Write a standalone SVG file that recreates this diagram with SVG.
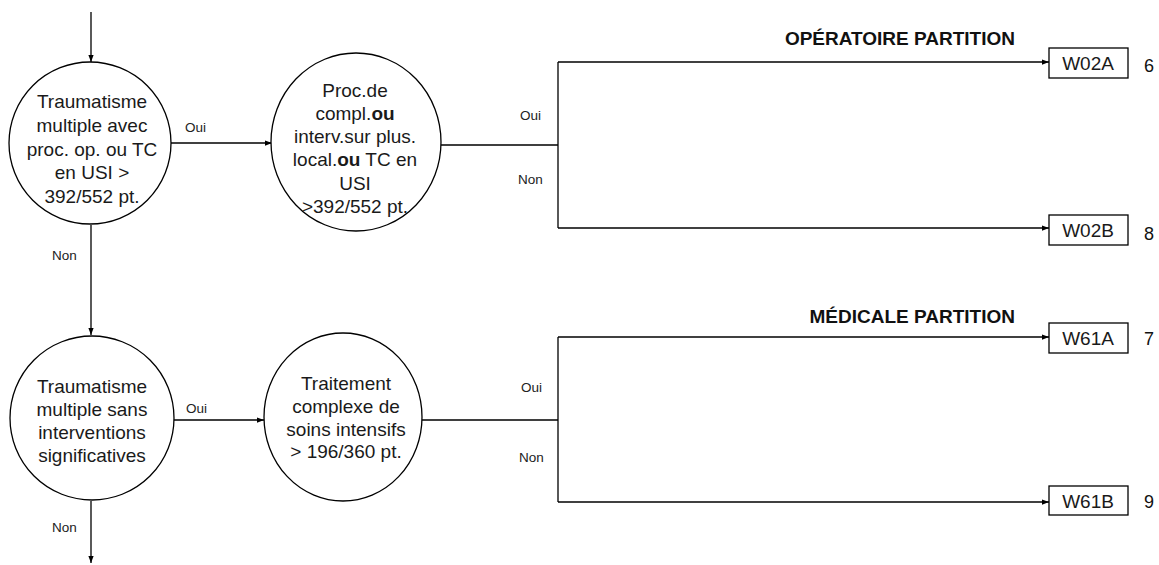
<svg xmlns="http://www.w3.org/2000/svg" width="1159" height="565" viewBox="0 0 1159 565">
<style>
.n{fill:#fff;stroke:#000;stroke-width:1.3}
.t{font-family:"Liberation Sans",Arial,sans-serif;font-size:19px;fill:#1a1a1a;text-anchor:middle}
.b{font-weight:bold}
.l{font-family:"Liberation Sans",Arial,sans-serif;font-size:13.5px;fill:#222}
.c{fill:none;stroke:#000;stroke-width:1.3}
.h{font-family:"Liberation Sans",Arial,sans-serif;font-size:19px;font-weight:bold;text-anchor:end;fill:#111}
.k{font-family:"Liberation Sans",Arial,sans-serif;font-size:18px;fill:#111}
</style>
<defs>
<marker id="a" viewBox="0 0 8 8" refX="8" refY="4" markerWidth="7" markerHeight="7" orient="auto" markerUnits="userSpaceOnUse"><path d="M0,1 L8,4 L0,7 z" fill="#000"/></marker>
</defs>
<rect width="1159" height="565" fill="#fff"/>
<g id="connectors">
<path class="c" d="M91,12 V62" marker-end="url(#a)"/>
<path class="c" d="M171,143 H272" marker-end="url(#a)"/>
<path class="c" d="M91,225 V335" marker-end="url(#a)"/>
<path class="c" d="M91,501 V563" marker-end="url(#a)"/>
<path class="c" d="M174,420 H264" marker-end="url(#a)"/>
<path class="c" d="M441,145 H558 M558,62 V228"/>
<path class="c" d="M558,62 H1049" marker-end="url(#a)"/>
<path class="c" d="M558,228 H1049" marker-end="url(#a)"/>
<path class="c" d="M422,420 H558 M558,337 V502"/>
<path class="c" d="M558,337 H1049" marker-end="url(#a)"/>
<path class="c" d="M558,502 H1049" marker-end="url(#a)"/>
<text class="l" x="185" y="132">Oui</text>
<text class="l" x="52" y="260">Non</text>
<text class="l" x="520" y="120">Oui</text>
<text class="l" x="518" y="184">Non</text>
<text class="l" x="186" y="413">Oui</text>
<text class="l" x="52" y="532">Non</text>
<text class="l" x="521" y="392">Oui</text>
<text class="l" x="519" y="462">Non</text>
</g>
<g id="n1">
<circle class="n" cx="90" cy="143" r="81"/>
<text class="t"><tspan x="92" y="108">Traumatisme</tspan><tspan x="92" y="132">multiple avec</tspan><tspan x="92" y="156">proc. op. ou TC</tspan><tspan x="92" y="179">en USI &gt;</tspan><tspan x="92" y="203">392/552 pt.</tspan></text>
</g>
<g id="n2">
<ellipse class="n" cx="356" cy="142" rx="85" ry="89"/>
<text class="t"><tspan x="355" y="97">Proc.de</tspan><tspan x="355" y="120">compl.<tspan class="b">ou</tspan></tspan><tspan x="355" y="143">interv.sur plus.</tspan><tspan x="355" y="166">local.<tspan class="b">ou</tspan> TC en</tspan><tspan x="355" y="190">USI</tspan><tspan x="355" y="213">&gt;392/552 pt.</tspan></text>
</g>
<g id="n3">
<circle class="n" cx="92" cy="418" r="82"/>
<text class="t"><tspan x="92" y="393">Traumatisme</tspan><tspan x="92" y="416">multiple sans</tspan><tspan x="92" y="439">interventions</tspan><tspan x="92" y="462">significatives</tspan></text>
</g>
<g id="n4">
<ellipse class="n" cx="343" cy="417" rx="79" ry="84"/>
<text class="t"><tspan x="346" y="390">Traitement</tspan><tspan x="346" y="413">complexe de</tspan><tspan x="346" y="436">soins intensifs</tspan><tspan x="346" y="458">&gt; 196/360 pt.</tspan></text>
</g>
<g id="title1"><text class="h" x="1015" y="45">OPÉRATOIRE PARTITION</text></g>
<g id="title2"><text class="h" x="1015" y="323">MÉDICALE PARTITION</text></g>
<g id="w02a">
<rect class="n" x="1049" y="48" width="79" height="30"/>
<text class="t" x="1088" y="70">W02A</text>
<text class="k" x="1144" y="72">6</text>
</g>
<g id="w02b">
<rect class="n" x="1049" y="215" width="79" height="30"/>
<text class="t" x="1088" y="237">W02B</text>
<text class="k" x="1144" y="240">8</text>
</g>
<g id="w61a">
<rect class="n" x="1049" y="323" width="79" height="30"/>
<text class="t" x="1088" y="345">W61A</text>
<text class="k" x="1144" y="345">7</text>
</g>
<g id="w61b">
<rect class="n" x="1049" y="486" width="79" height="29"/>
<text class="t" x="1088" y="508">W61B</text>
<text class="k" x="1144" y="508">9</text>
</g>
</svg>
